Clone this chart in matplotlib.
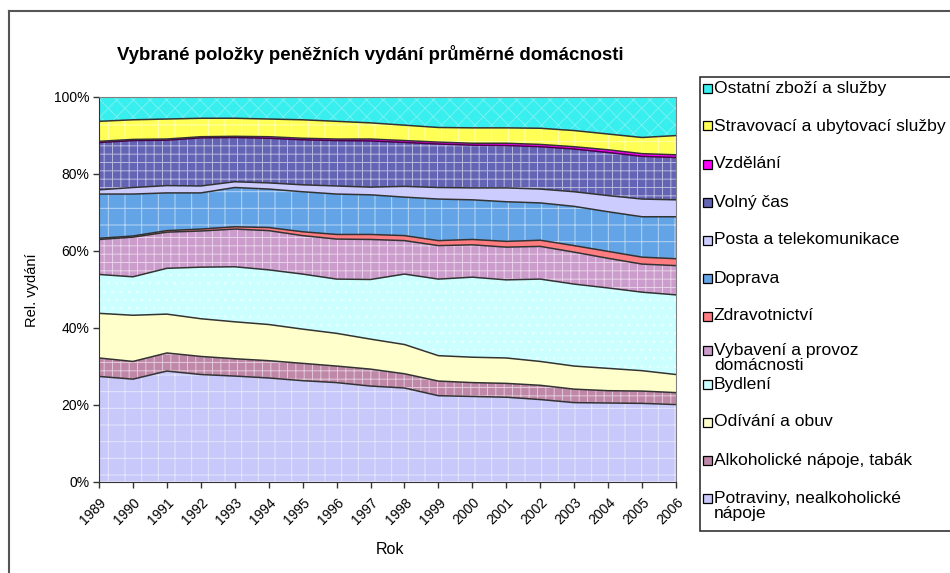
import matplotlib
matplotlib.use('Agg')
import matplotlib.pyplot as plt
from matplotlib.patches import Rectangle
from matplotlib.lines import Line2D
import numpy as np

plt.rcParams['font.family'] = ['Liberation Sans', 'DejaVu Sans']
plt.rcParams['hatch.linewidth'] = 0.7

# data - podíly v %
roky = list(range(1989, 2007))

potraviny = [27.3, 26.6, 28.7, 27.8, 27.4, 26.9, 26.2, 25.7, 24.8, 24.3, 22.3, 22.1, 21.9, 21.3, 20.5, 20.4, 20.3, 20.0]
alkohol = [4.8, 4.6, 4.7, 4.7, 4.5, 4.5, 4.5, 4.3, 4.4, 3.7, 3.8, 3.6, 3.6, 3.7, 3.5, 3.2, 3.2, 3.1]
odivani = [11.6, 12.0, 10.1, 9.8, 9.6, 9.4, 8.9, 8.5, 7.8, 7.6, 6.6, 6.6, 6.6, 6.2, 6.0, 5.8, 5.3, 4.7]
bydleni = [10.1, 10.0, 11.9, 13.4, 14.3, 14.2, 14.3, 14.1, 15.5, 18.3, 19.9, 20.8, 20.3, 21.4, 21.3, 20.9, 20.4, 20.7]
vybaveni = [9.1, 10.3, 9.4, 9.4, 9.8, 10.2, 10.0, 10.4, 10.4, 8.7, 8.7, 8.4, 8.5, 8.5, 8.3, 7.7, 7.3, 7.6]
zdravotnictvi = [0.3, 0.3, 0.4, 0.5, 0.6, 0.8, 1.0, 1.2, 1.3, 1.3, 1.3, 1.4, 1.5, 1.6, 1.7, 1.8, 1.8, 1.8]
doprava = [11.5, 10.9, 9.8, 9.4, 10.2, 10.0, 10.4, 10.5, 10.3, 10.0, 10.8, 10.3, 10.3, 9.7, 10.2, 10.3, 10.5, 10.9]
posta = [1.1, 1.7, 1.9, 1.8, 1.5, 1.6, 1.8, 2.1, 2.0, 2.8, 3.0, 3.1, 3.6, 3.6, 3.8, 4.2, 4.6, 4.4]
volny_cas = [12.3, 12.2, 11.8, 12.5, 11.5, 11.6, 11.7, 11.8, 12.0, 11.4, 11.3, 11.1, 11.0, 11.0, 11.1, 11.2, 11.1, 11.0]
vzdelani = [0.3, 0.3, 0.3, 0.3, 0.3, 0.4, 0.4, 0.4, 0.5, 0.5, 0.5, 0.5, 0.6, 0.6, 0.6, 0.7, 0.7, 0.7]
stravovani = [5.2, 5.1, 5.2, 4.8, 4.7, 4.6, 4.8, 4.6, 4.2, 4.0, 3.8, 4.0, 4.0, 4.2, 4.2, 4.1, 4.2, 5.0]
ostatni = [6.4, 6.0, 5.8, 5.6, 5.6, 5.8, 6.0, 6.4, 6.8, 7.4, 8.0, 8.1, 8.1, 8.2, 8.8, 9.7, 10.6, 10.1]

nazvy = ['Potraviny, nealkoholické\nnápoje', 'Alkoholické nápoje, tabák', 'Odívání a obuv', 'Bydlení',
         'Vybavení a provoz\ndomácnosti', 'Zdravotnictví', 'Doprava', 'Posta a telekomunikace',
         'Volný čas', 'Vzdělání', 'Stravovací a ubytovací služby', 'Ostatní zboží a služby']
serie = [potraviny, alkohol, odivani, bydleni, vybaveni, zdravotnictvi, doprava, posta,
         volny_cas, vzdelani, stravovani, ostatni]

# barvy a vzory (podle Excelu)
barvy = ['#c8c8fa', '#c088a8', '#ffffcc', '#ccffff', '#cc9ccc', '#ff7c80',
         '#62a4e6', '#ccccff', '#6464b4', '#ff00ff', '#ffff55', '#38eeee']
vzory = ['+', '++', None, '..', '++', None, '+', None, '++', None, '+', 'xx']
alfa = [0.55, 0.55, 0, 0.55, 0.55, 0, 0.55, 0, 0.55, 0, 0.55, 0.3]

fig = plt.figure(figsize=(9.5, 5.73), dpi=100)
ax = fig.add_axes([99/950, 1-481.5/573, (676-99)/950, (481.5-96.7)/573])

# procenta
data = np.array(serie, dtype=float)
data = data / data.sum(axis=0) * 100
kum = np.cumsum(data, axis=0)
dole = np.zeros(len(roky))
for i in range(len(serie)):
    nahore = kum[i]
    ax.fill_between(roky, dole, nahore, facecolor=barvy[i], linewidth=0, zorder=1)
    if vzory[i]:
        ax.fill_between(roky, dole, nahore, facecolor='none', hatch=vzory[i],
                        edgecolor='white', linewidth=0, alpha=alfa[i], zorder=2)
    dole = nahore
for i in range(len(serie) - 1):
    c = '#4a004a' if i == 8 else '#333333'
    ax.plot(roky, kum[i], color=c, linewidth=1.1, zorder=3)

ax.set_xlim(1989, 2006)
ax.set_ylim(0, 100)
ax.set_yticks([0, 20, 40, 60, 80, 100])
ax.set_yticklabels(['0%', '20%', '40%', '60%', '80%', '100%'], fontsize=10)
ax.set_xticks(roky)
ax.set_xticklabels([str(r) for r in roky], rotation=45, ha='right', rotation_mode='anchor', fontsize=10)
ax.tick_params(axis='both', direction='out', length=4, width=1, color='#333333', pad=3)
ax.tick_params(axis='x', pad=6)
for s in ['top', 'right']:
    ax.spines[s].set_color('#808080')
for s in ['left', 'bottom']:
    ax.spines[s].set_color('#333333')

fig.text(370/950, 1-55/573, 'Vybrané položky peněžních vydání průměrné domácnosti',
         fontsize=13.4, fontweight='bold', ha='center', va='center')
fig.text(32/950, 1-290/573, 'Rel. vydání', fontsize=10.5, rotation=90, ha='center', va='center')
fig.text(390/950, 1-549/573, 'Rok', fontsize=11.5, ha='center', va='center')

# rámeček grafu
fig.add_artist(Line2D([9/950, 9/950], [0, 1-11/573], color='#555555', linewidth=1.5))
fig.add_artist(Line2D([9/950, 1], [1-11/573, 1-11/573], color='#555555', linewidth=1.5))

# legenda
fig.add_artist(Rectangle((700/950, 1-531/573), 260/950, (531-77)/573, transform=fig.transFigure,
                         facecolor='white', edgecolor='#333333', linewidth=1.2))
leg_y = [498, 460, 422, 384, 350, 316, 278, 240, 202, 164, 126, 88]
for i in range(len(serie)):
    y = leg_y[i]
    fig.add_artist(Rectangle((703/950, 1-(y+4.5)/573), 9/950, 9/573, transform=fig.transFigure,
                             facecolor=barvy[i], edgecolor='black', linewidth=0.9))
    fig.text(714/950, 1-(y-7.5)/573, nazvy[i], fontsize=12.6, ha='left', va='top', linespacing=1.05)

fig.savefig('out.png', dpi=100)
